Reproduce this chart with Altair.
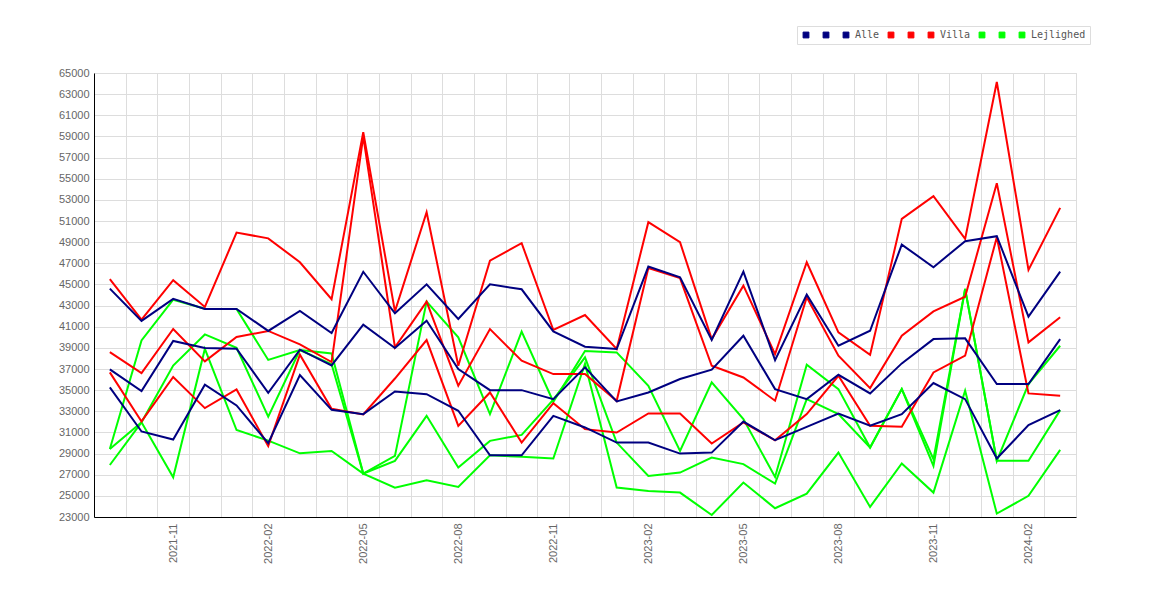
import altair as alt
import pandas as pd

months = ["2021-09", "2021-10", "2021-11", "2021-12", "2022-01", "2022-02", "2022-03",
          "2022-04", "2022-05", "2022-06", "2022-07", "2022-08", "2022-09", "2022-10",
          "2022-11", "2022-12", "2023-01", "2023-02", "2023-03", "2023-04", "2023-05",
          "2023-06", "2023-07", "2023-08", "2023-09", "2023-10", "2023-11", "2023-12",
          "2024-01", "2024-02", "2024-03"]

alle_1 = [44600, 41550, 43630, 42680, 42680, 40600, 42500, 40400, 46200, 42270,
          45010, 41730, 45010, 44540, 40560, 39110, 38890, 46690, 45680, 39740,
          46210, 37840, 44030, 39200, 40620, 48770, 46630, 49090, 49560, 41950, 46210]
alle_2 = [36970, 34910, 39650, 38990, 38920, 34750, 38830, 37340, 41200, 38980,
          41570, 37000, 35000, 35000, 34150, 37150, 33930, 34780, 36050, 36930,
          40150, 35100, 34150, 36450, 34690, 37530, 39830, 39900, 35570, 35570, 39830]
alle_3 = [35260, 31090, 30330, 35510, 33550, 29980, 36430, 33140, 32730, 34880,
          34620, 33050, 28840, 28840, 32570, 31470, 30040, 30040, 29000, 29090,
          32030, 30260, 31530, 32790, 31630, 32730, 35670, 34150, 28530, 31690, 33110]

villa_1 = [45500, 41670, 45400, 42870, 49900, 49360, 47100, 43600, 59400, 42450,
           51830, 37310, 47250, 48900, 40690, 42110, 38890, 50890, 48990, 39830,
           44880, 38410, 47100, 40470, 38350, 51200, 53350, 49310, 64150, 46370, 52240]
villa_2 = [38600, 36620, 40790, 37720, 40030, 40600, 39330, 37660, 59000, 39040,
           43370, 35420, 40780, 37780, 36520, 36520, 33990, 46560, 45600, 37310,
           36200, 34000, 43780, 38260, 35190, 40150, 42450, 43840, 54580, 39520, 41890]
villa_3 = [36680, 32040, 36240, 33300, 35070, 29700, 38350, 33240, 32700, 36100,
           39740, 31620, 34780, 30040, 33770, 31310, 30990, 32790, 32790, 29950,
           31940, 30260, 32730, 36360, 31630, 31530, 36680, 38260, 49470, 34690, 34470]

lejl_1 = [29430, 39700, 43550, 42700, 42680, 37860, 38800, 38470, 27110, 28780,
          43370, 39990, 32730, 40530, 33900, 38700, 38570, 35410, 29250, 35730,
          32260, 26790, 37400, 35100, 29570, 35100, 28470, 44570, 28310, 35570, 39200]
lejl_2 = [29430, 31960, 37330, 40270, 39000, 32500, 38800, 37460, 27110, 28310,
          32570, 27680, 30200, 30770, 34100, 38100, 30040, 26890, 27200, 28630,
          28000, 26160, 34150, 32730, 29570, 35100, 27830, 44570, 28310, 28310, 33110]
lejl_3 = [27920, 31960, 26760, 38900, 31230, 30220, 29020, 29250, 27110, 25780,
          26480, 25850, 28840, 28690, 28530, 37500, 25780, 25470, 25310, 23190,
          26260, 23830, 25210, 29090, 23950, 28060, 25310, 34940, 23320, 25000, 29350]

series_names = ["Alle1", "Alle2", "Alle", "Villa1", "Villa2", "Villa",
                "Lejlighed1", "Lejlighed2", "Lejlighed"]
series_groups = ["Alle"] * 3 + ["Villa"] * 3 + ["Lejlighed"] * 3
series_colors = ["#000080"] * 3 + ["#ff0000"] * 3 + ["#00ff00"] * 3
series_values = [alle_1, alle_2, alle_3, villa_1, villa_2, villa_3, lejl_1, lejl_2, lejl_3]

rows = []
for name, grp, vals in zip(series_names, series_groups, series_values):
    for m, v in zip(months, vals):
        rows.append({"month": m, "series": name, "key": name, "group": grp, "value": v})
df = pd.DataFrame(rows)

y_ticks = list(range(23000, 65001, 2000))

legend = alt.Legend(
    title=None,
    orient="none",
    legendX=703,
    legendY=-47,
    direction="horizontal",
    symbolType="square",
    symbolSize=34,
    symbolStrokeWidth=1,
    symbolStrokeColor="#666666",
    symbolOpacity=1,
    labelFont="DejaVu Sans Mono",
    labelFontSize=10,
    labelColor="#555555",
    labelOffset=4,
    columnPadding=6,
    padding=4,
    strokeColor="#dddddd",
    fillColor="#ffffff",
    labelExpr="(datum.label == 'Alle' || datum.label == 'Villa' || datum.label == 'Lejlighed') ? datum.label : ' '",
)

x_enc = alt.X("month:N", sort=months,
              scale=alt.Scale(type="band", paddingInner=0, paddingOuter=0),
              bandPosition=0.5,
              axis=alt.Axis(title=None, labelAngle=270, tickBand="extent", ticks=False,
                            grid=True, gridColor="#dddddd", gridWidth=1,
                            domainColor="#000000", domainWidth=1,
                            labelColor="#666666", labelFont="Liberation Sans",
                            labelFontSize=11, labelPadding=6,
                            labelExpr="indexof(['02','05','08','11'], substring(datum.value, 5, 7)) >= 0 ? datum.value : ''"))
y_enc = alt.Y("value:Q",
              scale=alt.Scale(domain=[23000, 65000], nice=False, zero=False),
              axis=alt.Axis(title=None, values=y_ticks, format="d", ticks=False,
                            grid=True, gridColor="#dddddd", gridWidth=1,
                            domainColor="#000000", domainWidth=1,
                            labelColor="#666666", labelFont="Liberation Sans",
                            labelFontSize=11, labelPadding=5))

base = alt.Chart(df).mark_line(strokeWidth=2, interpolate="linear").encode(
    x=x_enc,
    y=y_enc,
    stroke=alt.Stroke("series:N",
                      scale=alt.Scale(domain=series_names, range=series_colors),
                      legend=None),
    detail="series:N",
)

layers = [base.transform_filter(alt.datum.group == g) for g in ["Lejlighed", "Villa", "Alle"]]

legend_layer = alt.Chart(df).mark_point(shape="square", filled=True, size=0, opacity=1,
                                        stroke="#666666", strokeWidth=1).encode(
    x=x_enc,
    y=y_enc,
    fill=alt.Fill("key:N",
                  scale=alt.Scale(domain=series_names, range=series_colors),
                  legend=legend),
)

chart = alt.layer(legend_layer, *layers).properties(
    width=982,
    height=444,
    autosize=alt.AutoSizeParams(type="none"),
    padding={"left": 86, "top": 65, "right": 20, "bottom": 60},
).configure_view(stroke=None).configure(background="#ffffff")

chart.save("out.html", embed_options={"renderer": "svg", "actions": False})
